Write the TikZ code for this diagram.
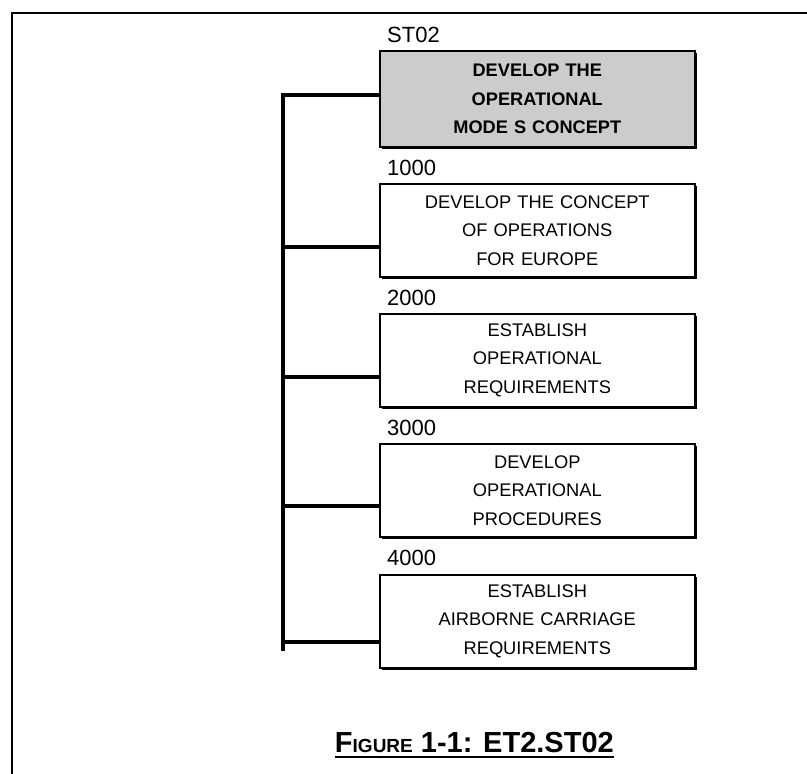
\documentclass[tikz,border=0pt]{standalone}
\usepackage{fontspec}
\setmainfont{Liberation Sans}
\usetikzlibrary{shadows}
\definecolor{boxgray}{RGB}{204,204,204}
\begin{document}
\begin{tikzpicture}[x=1pt,y=-1pt]
\useasboundingbox (0,0) rectangle (807,774);
\tikzset{
  task/.style={draw=black, line width=1.6pt, fill=white, minimum width=315pt,
    minimum height=93pt, anchor=north west, inner sep=0pt, align=center,
    text width=305pt, font=\fontsize{18.3}{28.5}\selectfont,
    drop shadow={shadow xshift=2.6pt, shadow yshift=-2.6pt, opacity=1, fill=black}},
  toptask/.style={task, fill=boxgray, minimum height=96pt, font=\bfseries\fontsize{18.2}{28.5}\selectfont},
  lab/.style={anchor=west, inner sep=0pt, font=\fontsize{22}{26}\selectfont},
  tree/.style={line width=4pt},
  frame/.style={line width=2.2pt}
}
% frame
\coordinate (fa) at (12,774);
\coordinate (fb) at (12,13);
\coordinate (fc) at (807,13);
\draw[frame] (fa) -- (fb) -- (fc);

% boxes
\node[toptask] (b0) at (379,50) {DEVELOP THE\\OPERATIONAL\\MODE S CONCEPT};
\node[task] (b1) at (379,183) {DEVELOP THE CONCEPT\\OF OPERATIONS\\FOR EUROPE};
\node[task] (b2) at (379,313) {ESTABLISH\\OPERATIONAL\\REQUIREMENTS};
\node[task] (b3) at (379,443) {DEVELOP\\OPERATIONAL\\PROCEDURES};
\node[task] (b4) at (379,574) {ESTABLISH\\AIRBORNE CARRIAGE\\REQUIREMENTS};

% labels
\node[lab] (l0) at (387,35) {ST02};
\node[lab] (l1) at (387,168) {1000};
\node[lab] (l2) at (387,298) {2000};
\node[lab] (l3) at (387,428) {3000};
\node[lab] (l4) at (387,558) {4000};

% tree
\coordinate (j0) at (283,95);
\coordinate (j1) at (283,247);
\coordinate (j2) at (283,377);
\coordinate (j3) at (283,506);
\coordinate (j4) at (283,642);
\coordinate (jend) at (283,651);
\draw[tree] (j0 -| b0.west) -- (j0) -- (jend);
\draw[tree] (j1) -- (j1 -| b1.west);
\draw[tree] (j2) -- (j2 -| b2.west);
\draw[tree] (j3) -- (j3 -| b3.west);
\draw[tree] (j4) -- (j4 -| b4.west);

% caption
\node[anchor=base east, inner sep=0pt] (cap) at (614,752)
  {\bfseries\fontsize{29}{33}\selectfont F{\fontsize{19}{22}\selectfont IGURE} 1-1: ET2.ST02};
\draw[line width=2.6pt] ([yshift=-5pt]cap.base west) -- ([yshift=-5pt]cap.base east);
\end{tikzpicture}
\end{document}
